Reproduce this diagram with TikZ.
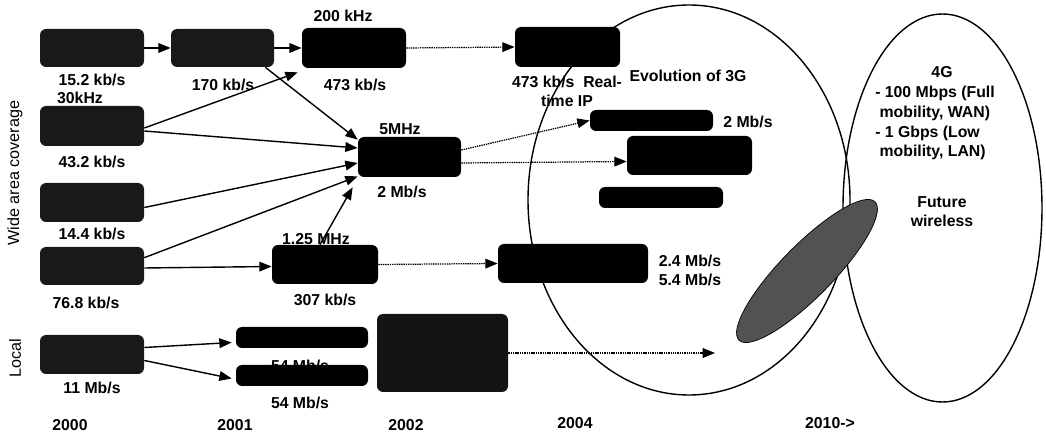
\documentclass[tikz,border=0pt]{standalone}
\usepackage{fontspec}
\setmainfont{Liberation Sans}
\usetikzlibrary{arrows.meta,calc,shapes.geometric}
\def\pxu{0.02cm}
\begin{document}
\begin{tikzpicture}[x=0.02cm,y=-0.02cm,
  box/.style={fill=black,rounded corners=3.5pt,inner sep=0pt},
  lbox/.style={box,fill=black!90},
  lbl/.style={font=\fontsize{9}{10.8}\selectfont\bfseries,inner sep=0pt,align=center},
  side/.style={font=\fontsize{9.2}{10}\selectfont,inner sep=0pt,rotate=90},
  sarr/.style={line width=0.8pt,-{Triangle[length=7pt,width=5.5pt]}},
  darr/.style={line width=0.7pt,dash pattern=on 0.8pt off 0.5pt,-{Triangle[length=7pt,width=5.5pt]}},
  oval/.style={draw=black,line width=0.8pt}]
\useasboundingbox (0,0) rectangle (1046,435);
% ellipses
\node[oval,ellipse,minimum width=322*\pxu,minimum height=390*\pxu,inner sep=0pt] (e3g) at (689,200) {};
\node[oval,ellipse,minimum width=199*\pxu,minimum height=388*\pxu,inner sep=0pt] (e4g) at (942.5,208) {};
% boxes
\node[lbox,minimum width=104*\pxu,minimum height=38*\pxu] (a1) at (92,48) {};
\node[lbox,minimum width=103*\pxu,minimum height=38*\pxu] (a2) at (222.5,48) {};
\node[box,minimum width=104*\pxu,minimum height=40*\pxu] (a3) at (354,48) {};
\node[box,minimum width=105*\pxu,minimum height=40*\pxu] (a4) at (567.5,47) {};
\node[lbox,minimum width=104*\pxu,minimum height=40*\pxu] (b1) at (92,126) {};
\node[lbox,minimum width=104*\pxu,minimum height=39*\pxu] (c1) at (92,202.5) {};
\node[lbox,minimum width=104*\pxu,minimum height=38*\pxu] (d1) at (92,266) {};
\node[lbox,minimum width=104*\pxu,minimum height=39*\pxu] (e1) at (92,354.5) {};
\node[box,minimum width=103*\pxu,minimum height=40*\pxu] (m5) at (409.5,157) {};
\node[box,minimum width=106*\pxu,minimum height=39*\pxu] (m125) at (325,264.5) {};
\node[box,minimum width=150*\pxu,minimum height=39*\pxu] (m24) at (573,263.5) {};
\node[box,minimum width=132*\pxu,minimum height=21*\pxu] (w1) at (302,337.5) {};
\node[lbl] (lw1) at (300,366) {54 Mb/s};
\node[box,minimum width=132*\pxu,minimum height=21*\pxu] (w2) at (302,375.5) {};
\node[box,fill=black!92,minimum width=131*\pxu,minimum height=78*\pxu] (big) at (442.5,353) {};
\node[box,minimum width=123*\pxu,minimum height=21*\pxu] (g1) at (651.5,120.5) {};
\node[box,minimum width=125*\pxu,minimum height=39*\pxu] (g2) at (689.5,155.5) {};
\node[box,minimum width=124*\pxu,minimum height=21*\pxu] (g3) at (661,197.5) {};
% dark ellipse
\node[draw=black,fill=black!68,ellipse,minimum width=194*\pxu,minimum height=52*\pxu,inner sep=0pt,rotate=45.5] (fw) at (807,271) {};
% labels
\node[lbl] (l1) at (92,80) {15.2 kb/s};
\node[lbl] (l2) at (80,98) {30kHz};
\node[lbl] (l3) at (223,85) {170 kb/s};
\node[lbl] (l4) at (343,16) {200 kHz};
\node[lbl] (l5) at (355,85) {473 kb/s};
\node[lbl] (l6) at (92,162) {43.2 kb/s};
\node[lbl] (l7) at (92,234) {14.4 kb/s};
\node[lbl] (l8) at (86,303) {76.8 kb/s};
\node[lbl] (l9) at (316,239) {1.25 MHz};
\node[lbl] (l10) at (325,300) {307 kb/s};
\node[lbl] (l11) at (92,388) {11 Mb/s};
\node[lbl] (l12) at (300,403) {54 Mb/s};
\node[lbl] (l13) at (400,129) {5MHz};
\node[lbl] (l14) at (402,192) {2 Mb/s};
\node[lbl] (l15) at (567,91) {473 kb/s\ \ Real-\\time IP};
\node[lbl] (l16) at (688,76) {Evolution of 3G};
\node[lbl] (l17) at (748,122) {2 Mb/s};
\node[lbl] (l18) at (690,270) {2.4 Mb/s\\5.4 Mb/s};
\node[lbl] (l19) at (942,72) {4G};
\node[lbl,align=left,font=\fontsize{9}{11.3}\selectfont\bfseries] (l20) at (935,123) {- 100 Mbps (Full\\\ mobility, WAN)\\- 1 Gbps (Low\\\ mobility, LAN)};
\node[lbl] (l21) at (942,212) {Future\\wireless};
\node[lbl] (y0) at (70,425) {2000};
\node[lbl] (y1) at (235,425) {2001};
\node[lbl] (y2) at (406,425) {2002};
\node[lbl] (y4) at (575,423) {2004};
\node[lbl] (y10) at (830,423) {2010->};
\node[side] (s1) at (15,173) {Wide area coverage};
\node[side] (s2) at (15,358) {Local};
\coordinate (endlocal) at (715,353);
% arrows
\draw[sarr] (a1.east) -- (a2.west);
\draw[sarr] (a2.east) -- (a3.west);
\draw[darr] (a3.east) -- (a4.west);
\draw[sarr] ([yshift=-2*\pxu]b1.east) -- ([xshift=-4*\pxu,yshift=-4*\pxu]a3.south west);
\draw[sarr] ([xshift=-9*\pxu]a2.south east) -- ([yshift=-3*\pxu]m5.north west);
\draw[sarr] ([yshift=-5*\pxu]b1.east) -- ([yshift=9*\pxu]m5.west);
\draw[sarr] ([yshift=-5*\pxu]c1.east) -- ([yshift=-6*\pxu]m5.west);
\draw[sarr] ([yshift=-11*\pxu]d1.north east) -- ([yshift=1*\pxu]m5.south west);
\draw[sarr] ([xshift=-5*\pxu]m125.north) -- ([xshift=-5*\pxu,yshift=-10*\pxu]m5.south west);
\draw[sarr] ([yshift=-2*\pxu]d1.east) -- ([yshift=-2*\pxu]m125.west);
\draw[darr] (m125.east) -- (m24.west);
\draw[darr] ([yshift=7*\pxu]m5.east) -- (g1.west);
\draw[darr] ([yshift=-6*\pxu]m5.east) -- ([yshift=-6*\pxu]g2.west);
\draw[sarr] ([yshift=7*\pxu]e1.east) -- ([xshift=-4*\pxu,yshift=-5*\pxu]w1.west);
\draw[sarr] ([yshift=-6*\pxu]e1.east) -- ([xshift=-4*\pxu,yshift=-3*\pxu]w2.west);
\draw[darr] (big.east) -- (endlocal);
\end{tikzpicture}
\end{document}
